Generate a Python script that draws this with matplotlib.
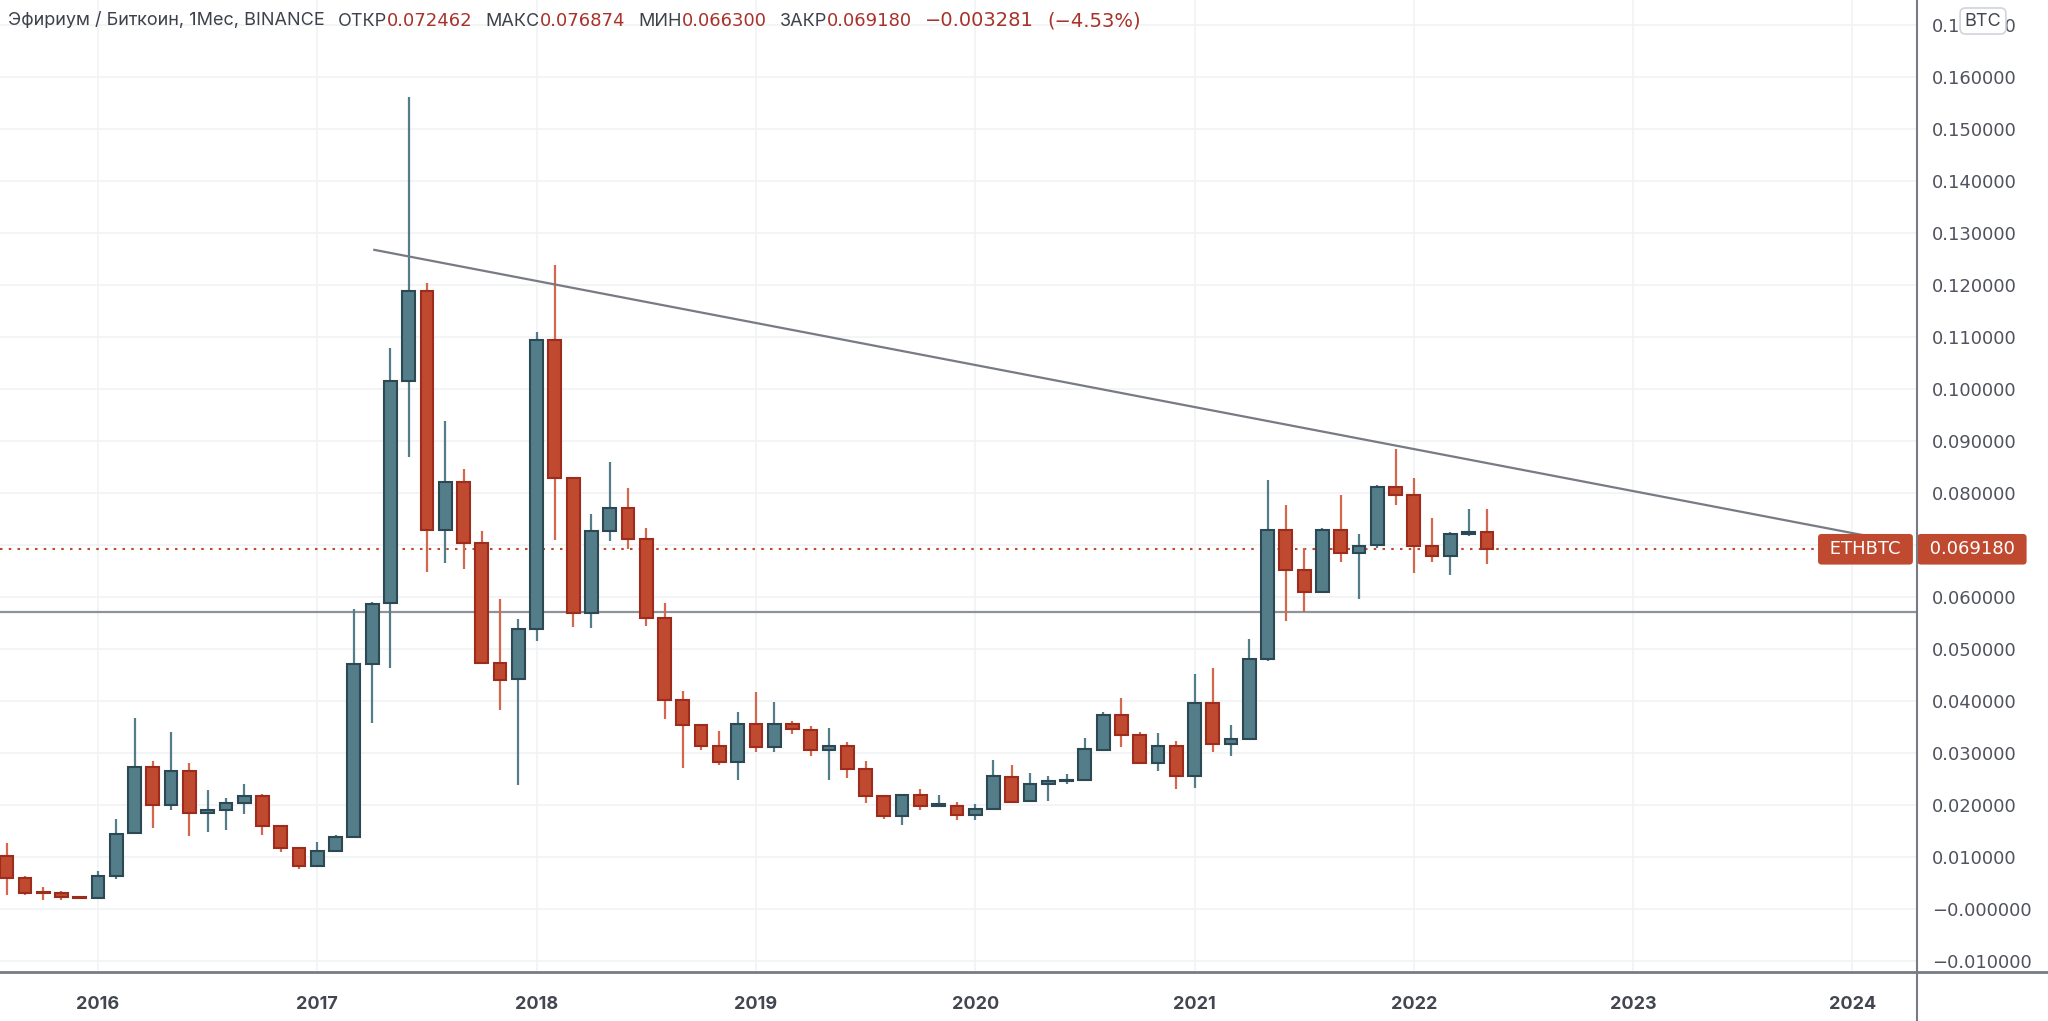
import numpy as np
import pandas as pd
import matplotlib
matplotlib.use('Agg')
import matplotlib.pyplot as plt
from matplotlib.lines import Line2D

plt.rcParams['font.family'] = ['Inter', 'DejaVu Sans']
NUM_FONT = ['DejaVu Sans']

# monthly ETH/BTC candles, Aug 2015 .. May 2022
start_month = '2015-08'
opens = [0.0102, 0.0060, 0.0032, 0.0031, 0.0024,
         0.0022, 0.0064, 0.0146, 0.0274, 0.0200, 0.0265, 0.0185, 0.0190, 0.0203, 0.0218, 0.0159, 0.0117,
         0.0083, 0.0112, 0.0138, 0.0472, 0.0589, 0.1016, 0.1189, 0.0728, 0.0821, 0.0704, 0.0474, 0.0442,
         0.0539, 0.1094, 0.0828, 0.0570, 0.0727, 0.0772, 0.0712, 0.0559, 0.0402, 0.0353, 0.0313, 0.0282,
         0.0356, 0.0312, 0.0355, 0.0344, 0.0305, 0.0313, 0.0269, 0.0217, 0.0179, 0.0219, 0.0199, 0.0199,
         0.0181, 0.0193, 0.0254, 0.0207, 0.0240, 0.0246, 0.0248, 0.0306, 0.0373, 0.0335, 0.0281, 0.0313,
         0.0255, 0.0397, 0.0317, 0.0327, 0.0481, 0.0728, 0.0651, 0.0610, 0.0729, 0.0685, 0.0700, 0.0812,
         0.0796, 0.0699, 0.0678, 0.0721, 0.072462]
highs = [0.0126, 0.0063, 0.0042, 0.0035, 0.0025,
         0.0073, 0.0174, 0.0368, 0.0285, 0.0341, 0.0280, 0.0228, 0.0213, 0.0240, 0.0222, 0.0160, 0.0118,
         0.0128, 0.0143, 0.0577, 0.0590, 0.1079, 0.1562, 0.1203, 0.0938, 0.0847, 0.0726, 0.0597, 0.0558,
         0.1110, 0.1239, 0.0829, 0.0759, 0.0860, 0.0810, 0.0733, 0.0589, 0.0419, 0.0356, 0.0342, 0.0379,
         0.0418, 0.0399, 0.0362, 0.0352, 0.0349, 0.0322, 0.0284, 0.0218, 0.0222, 0.0231, 0.0220, 0.0206,
         0.0201, 0.0287, 0.0276, 0.0261, 0.0256, 0.0260, 0.0328, 0.0379, 0.0406, 0.0340, 0.0338, 0.0324,
         0.0452, 0.0463, 0.0354, 0.0520, 0.0825, 0.0777, 0.0694, 0.0733, 0.0796, 0.0721, 0.0815, 0.0885,
         0.0829, 0.0751, 0.0725, 0.0769, 0.076874]
lows = [0.0027, 0.0027, 0.0017, 0.0017, 0.0019,
        0.0021, 0.0058, 0.0145, 0.0155, 0.0190, 0.0140, 0.0148, 0.0152, 0.0182, 0.0142, 0.0110, 0.0076,
        0.0082, 0.0110, 0.0137, 0.0358, 0.0464, 0.0869, 0.0649, 0.0666, 0.0654, 0.0472, 0.0382, 0.0238,
        0.0515, 0.0710, 0.0543, 0.0540, 0.0707, 0.0692, 0.0545, 0.0365, 0.0271, 0.0306, 0.0276, 0.0248,
        0.0301, 0.0301, 0.0336, 0.0294, 0.0249, 0.0251, 0.0203, 0.0174, 0.0162, 0.0190, 0.0196, 0.0172,
        0.0172, 0.0192, 0.0204, 0.0205, 0.0208, 0.0241, 0.0247, 0.0305, 0.0311, 0.0280, 0.0265, 0.0230,
        0.0233, 0.0301, 0.0295, 0.0326, 0.0476, 0.0554, 0.0572, 0.0609, 0.0667, 0.0596, 0.0694, 0.0776,
        0.0646, 0.0668, 0.0642, 0.0718, 0.066300]
closes = [0.0060, 0.0031, 0.0030, 0.0024, 0.0021,
          0.0064, 0.0145, 0.0274, 0.0200, 0.0265, 0.0185, 0.0191, 0.0203, 0.0218, 0.0159, 0.0117, 0.0083,
          0.0111, 0.0138, 0.0471, 0.0587, 0.1015, 0.1189, 0.0729, 0.0821, 0.0703, 0.0474, 0.0441, 0.0539,
          0.1095, 0.0828, 0.0570, 0.0726, 0.0772, 0.0712, 0.0559, 0.0402, 0.0354, 0.0313, 0.0282, 0.0356,
          0.0312, 0.0356, 0.0346, 0.0305, 0.0313, 0.0269, 0.0217, 0.0179, 0.0219, 0.0199, 0.0200, 0.0181,
          0.0192, 0.0256, 0.0206, 0.0240, 0.0246, 0.0248, 0.0307, 0.0373, 0.0335, 0.0281, 0.0313, 0.0255,
          0.0397, 0.0317, 0.0327, 0.0481, 0.0728, 0.0651, 0.0610, 0.0729, 0.0685, 0.0699, 0.0812, 0.0796,
          0.0699, 0.0678, 0.0721, 0.07246, 0.069180]

# drawings on the chart
trend_months = ['2017-04', '2024-01']
trend_offset = [0.06, 0.58]          # fraction of a month past the bar
trend_values = [0.1268, 0.0719]
support_level = 0.0571
y_ticks = np.round(np.arange(-0.01, 0.171, 0.01), 2)
years = [2016, 2017, 2018, 2019, 2020, 2021, 2022, 2023, 2024]

header_parts = [('Эфириум / Биткоин, 1Мес, BINANCE', 'lab'), ('ОТКР', 'lab'), ('0.072462', 'val'),
                ('МАКС', 'lab'), ('0.076874', 'val'), ('МИН', 'lab'), ('0.066300', 'val'),
                ('ЗАКР', 'lab'), ('0.069180', 'val'), ('−0.003281', 'val'), ('(−4.53%)', 'val')]

W, H = 2048, 1021
UP, UP_EDGE = '#537d89', '#2c4853'
DN, DN_EDGE = '#c04a30', '#9e2c1c'
DN_WICK = '#d4674f'
AXIS_C = '#787b86'
TEXT_C = '#50535e'

opens, highs, lows, closes = map(np.array, (opens, highs, lows, closes))
months = pd.period_range(start_month, periods=len(opens), freq='M')
m0 = months[0]
x = np.arange(len(opens))
up = closes >= opens

fig = plt.figure(figsize=(W / 100, H / 100), dpi=100)
ax = fig.add_axes([0, (H - 972) / H, 1917 / W, 972 / H])

# wicks then bodies
ax.vlines(x[up], lows[up], highs[up], color=UP, lw=1.6, zorder=2)
ax.vlines(x[~up], lows[~up], highs[~up], color=DN_WICK, lw=1.6, zorder=2)
body_lo = np.minimum(opens, closes)
body_h = np.maximum(np.abs(closes - opens), 0.0003)
ax.bar(x, body_h, bottom=body_lo, width=0.7,
       color=np.where(up, UP, DN), edgecolor=np.where(up, UP_EDGE, DN_EDGE),
       linewidth=1.5, zorder=3)

# trend line and support
tx = [(pd.Period(m, 'M') - m0).n + o for m, o in zip(trend_months, trend_offset)]
ax.plot(tx, trend_values, color=AXIS_C, lw=1.6, zorder=4, solid_capstyle='butt')
ax.axhline(support_level, color='#8f929a', lw=1.6, zorder=1)
ax.axhline(closes[-1], color=DN, lw=1.5, ls=(0, (1.2, 3)), zorder=1)

# axes ranges
jan16 = (pd.Period('2016-01', 'M') - m0).n
px_per_month = 219.3 / 12
ax.set_xlim(jan16 - 98 / px_per_month, jan16 + (1917 - 98) / px_per_month)
ax.set_ylim(0.16 - 895 / 5200, 0.16 + 77 / 5200)

year_pos = [(pd.Period(f'{y}-01', 'M') - m0).n for y in years]
ax.set_xticks(year_pos)
ax.set_xticklabels([str(y) for y in years], fontsize=13, fontweight='bold', color='#434651')
ax.tick_params(axis='x', length=0, pad=17)

ax.yaxis.tick_right()
ax.set_yticks(y_ticks)
ax.set_yticklabels(['−0.000000' if abs(v) < 1e-9 else f'{v:.6f}'.replace('-', '−') for v in y_ticks],
                   fontsize=13, color=TEXT_C, family=NUM_FONT)
ax.tick_params(axis='y', length=0, pad=11)

ax.grid(True, color='#f1f2f5', lw=1.2, zorder=0)
ax.set_axisbelow(True)
for s in ax.spines.values():
    s.set_visible(False)

# axis frame lines
fig.add_artist(Line2D([1917 / W, 1917 / W], [0, 1], color=AXIS_C, lw=1.5))
fig.add_artist(Line2D([0, 1], [(H - 972) / H, (H - 972) / H], color=AXIS_C, lw=2))

# price labels
ax.annotate(' ETHBTC ', xy=(1, closes[-1]), xycoords=('axes fraction', 'data'),
            xytext=(-7.5, 0), textcoords='offset points', ha='right', va='center',
            fontsize=13, color='white', zorder=6, family=NUM_FONT,
            bbox=dict(boxstyle='round,pad=0.35,rounding_size=0.2', fc=DN, ec='none'))
ax.annotate(f' {closes[-1]:.6f} ', xy=(1, closes[-1]), xycoords=('axes fraction', 'data'),
            xytext=(4.8, 0), textcoords='offset points', ha='left', va='center',
            fontsize=13, color='white', annotation_clip=False, zorder=6, family=NUM_FONT,
            bbox=dict(boxstyle='round,pad=0.35,rounding_size=0.2', fc=DN, ec='none'))

fig.text(1983 / W, 1 - 21 / H, 'BTC', ha='center', va='center', fontsize=13, color='#434651',
         bbox=dict(boxstyle='round,pad=0.25,rounding_size=0.3', fc='white', ec='#d1d4dc', lw=1.2),
         zorder=10)

# legend line at the top
renderer = fig.canvas.get_renderer()
xpix = 8
colors = {'lab': '#3e414b', 'val': '#a8322a'}
for i, (s, kind) in enumerate(header_parts):
    fam = NUM_FONT if kind == 'val' else ['Inter', 'DejaVu Sans']
    size = 14 if s.startswith(('−', '(')) else 13
    t = fig.text(xpix / W, 1 - 21 / H, s, color=colors[kind], fontsize=size, ha='left', va='center',
                 family=fam)
    xpix += t.get_window_extent(renderer).width
    if kind == 'val' or i == 0:
        xpix += 13

fig.savefig('out.png', dpi=100, facecolor='white')
